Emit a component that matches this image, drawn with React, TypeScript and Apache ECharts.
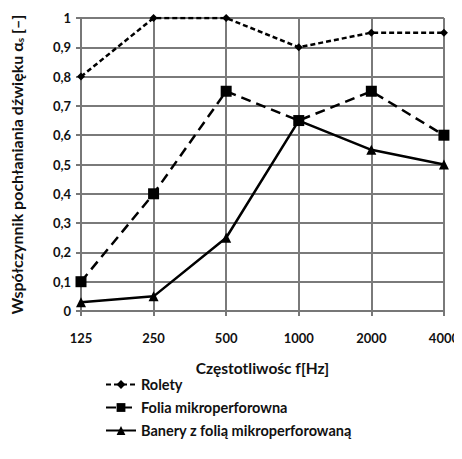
import React, { useEffect, useRef } from "react";
import * as echarts from "echarts";

const categories = ["125", "250", "500", "1000", "2000", "4000"];
const rolety = [0.8, 1, 1, 0.9, 0.95, 0.95];
const folia = [0.1, 0.4, 0.75, 0.65, 0.75, 0.6];
const banery = [0.03, 0.05, 0.25, 0.65, 0.55, 0.5];
const seriesNames = ["Rolety", "Folia mikroperforowna", "Banery z folią mikroperforowaną"];
const xTitle = "Częstotliwośc f[Hz]";

const FONT = "Lato, 'Open Sans', sans-serif";

export default function App() {
  const ref = useRef<HTMLDivElement>(null);
  useEffect(() => {
    const chart = echarts.init(ref.current!, null, { renderer: "svg" });
    chart.setOption({
      animation: false,
      backgroundColor: "#ffffff",
      textStyle: { fontFamily: FONT },
      grid: { left: 80, right: 11, top: 18, bottom: 148 },
      legend: {
        orient: "vertical",
        left: 100,
        top: 372,
        itemGap: 8,
        itemWidth: 30,
        itemHeight: 11,
        textStyle: { fontFamily: FONT, fontWeight: "bold", fontSize: 14.5, color: "#111" },
        data: seriesNames,
      },
      xAxis: {
        type: "category",
        data: categories,
        boundaryGap: false,
        name: xTitle,
        nameLocation: "middle",
        nameGap: 49,
        nameTextStyle: { fontFamily: FONT, fontWeight: "bold", fontSize: 15.5, color: "#111" },
        axisLine: { lineStyle: { color: "#777", width: 2 } },
        axisTick: { show: true, length: 5, lineStyle: { color: "#777", width: 2 } },
        axisLabel: { fontFamily: FONT, fontWeight: "bold", fontSize: 13, color: "#111", margin: 20 },
        splitLine: { show: true, lineStyle: { color: "#7a7a7a", width: 2 } },
      },
      yAxis: {
        type: "value",
        min: 0,
        max: 1,
        interval: 0.1,
        name: "{a|Współczynnik pochłaniania dźwięku α}{s|s}{a| [–]}",
        nameLocation: "middle",
        nameGap: 56,
        nameRotate: 90,
        nameTextStyle: {
          fontFamily: FONT,
          fontWeight: "bold",
          fontSize: 16,
          color: "#111",
          rich: {
            a: { fontFamily: FONT, fontWeight: "bold", fontSize: 16, color: "#111" },
            s: { fontFamily: FONT, fontWeight: "bold", fontSize: 10, color: "#111", verticalAlign: "bottom", padding: [8, 0, 0, 0] },
          },
        },
        axisLine: { show: true, lineStyle: { color: "#777", width: 2 } },
        axisTick: { show: true, length: 5, lineStyle: { color: "#777", width: 2 } },
        axisLabel: {
          fontFamily: FONT,
          fontWeight: "bold",
          fontSize: 13,
          color: "#111",
          margin: 10,
          formatter: (v: number) => (Math.round(v * 10) / 10).toString().replace(".", ","),
        },
        splitLine: { show: true, lineStyle: { color: "#7a7a7a", width: 2 } },
      },
      series: [
        {
          name: seriesNames[0],
          type: "line",
          data: rolety,
          symbol: "diamond",
          symbolSize: 8,
          itemStyle: { color: "#000" },
          lineStyle: { color: "#000", width: 2.5, type: [5, 3] },
        },
        {
          name: seriesNames[1],
          type: "line",
          data: folia,
          symbol: "rect",
          symbolSize: 11,
          itemStyle: { color: "#000" },
          lineStyle: { color: "#000", width: 2.5, type: [10, 6] },
        },
        {
          name: seriesNames[2],
          type: "line",
          data: banery,
          symbol: "triangle",
          symbolSize: 10,
          itemStyle: { color: "#000" },
          lineStyle: { color: "#000", width: 2.5, type: "solid" },
        },
      ],
    });
    return () => chart.dispose();
  }, []);
  return <div ref={ref} style={{ width: 462, height: 459, margin: -8 }} />;
}
